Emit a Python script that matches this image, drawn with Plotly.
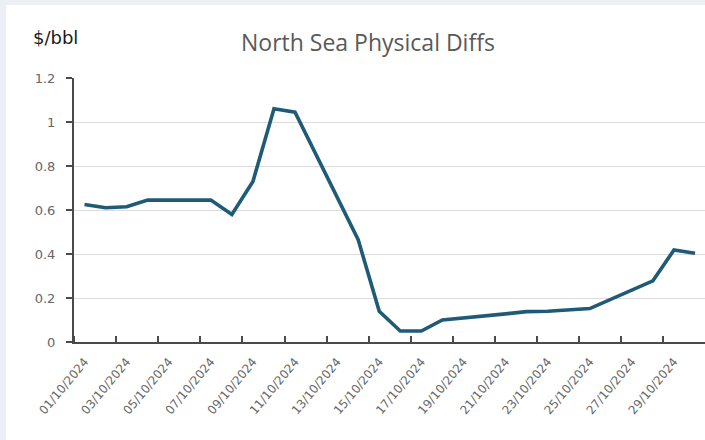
import plotly.graph_objects as go

dates = ["2024-10-01", "2024-10-02", "2024-10-03", "2024-10-04",
         "2024-10-07", "2024-10-08", "2024-10-09", "2024-10-10", "2024-10-11",
         "2024-10-14", "2024-10-15", "2024-10-16", "2024-10-17", "2024-10-18",
         "2024-10-21", "2024-10-22", "2024-10-23", "2024-10-24", "2024-10-25",
         "2024-10-28", "2024-10-29", "2024-10-30"]
diffs = [0.625, 0.61, 0.615, 0.645,
         0.645, 0.58, 0.73, 1.06, 1.045,
         0.465, 0.14, 0.05, 0.05, 0.10,
         0.128, 0.138, 0.14, 0.145, 0.152,
         0.278, 0.418, 0.403]

tick_dates = ["2024-10-01", "2024-10-03", "2024-10-05", "2024-10-07", "2024-10-09",
              "2024-10-11", "2024-10-13", "2024-10-15", "2024-10-17", "2024-10-19",
              "2024-10-21", "2024-10-23", "2024-10-25", "2024-10-27", "2024-10-29"]
tick_labels = ["01/10/2024", "03/10/2024", "05/10/2024", "07/10/2024", "09/10/2024",
               "11/10/2024", "13/10/2024", "15/10/2024", "17/10/2024", "19/10/2024",
               "21/10/2024", "23/10/2024", "25/10/2024", "27/10/2024", "29/10/2024"]
y_ticks = [0, 0.2, 0.4, 0.6, 0.8, 1, 1.2]
y_labels = ["0", "0.2", "0.4", "0.6", "0.8", "1", "1.2"]

fig = go.Figure()
fig.add_trace(go.Scatter(
    x=dates, y=diffs, mode="lines",
    line=dict(color="#1f5b76", width=3.6),
    hoverinfo="skip",
))

W, H = 705, 440
ml, mr, mt, mb = 74, 0, 78, 98
pw, ph = W - ml - mr, H - mt - mb

def px_x(v):
    return (v - ml) / pw

def px_y(v):
    return (H - mb - v) / ph

fig.update_layout(
    width=W, height=H,
    margin=dict(l=ml, r=mr, t=mt, b=mb, pad=0),
    paper_bgcolor="#eceff3",
    plot_bgcolor="white",
    showlegend=False,
    font=dict(family="DejaVu Sans", color="#595959"),
    shapes=[dict(type="rect", xref="paper", yref="paper",
                 x0=px_x(6), x1=px_x(W + 20), y0=px_y(H + 20), y1=px_y(5),
                 fillcolor="white", line=dict(width=0), layer="below")],
    annotations=[
        dict(text="North Sea Physical Diffs", xref="paper", yref="paper",
             x=px_x(368), y=px_y(42), xanchor="center", yanchor="middle",
             showarrow=False, font=dict(family="Open Sans", size=23, color="#595959")),
        dict(text="$/bbl", xref="paper", yref="paper",
             x=px_x(31), y=px_y(38), xanchor="left", yanchor="middle",
             showarrow=False, font=dict(family="DejaVu Sans", size=18, color="#1a1a1a")),
    ],
)

fig.update_xaxes(
    type="date",
    range=["2024-09-30 12:00", "2024-10-30 11:25"],
    tickvals=tick_dates, ticktext=tick_labels,
    tickangle=-50, ticks="", ticklabelstandoff=6,
    tickfont=dict(family="DejaVu Sans", size=12, color="#666666"),
    showgrid=False, zeroline=False,
    showline=True, linecolor="#4a4a4a", linewidth=2,
    minor=dict(tick0="2024-09-30 12:00", dtick=2 * 86400000, ticks="inside",
               ticklen=6, tickwidth=1.5, tickcolor="#4a4a4a", showgrid=False),
)
fig.update_yaxes(
    range=[0, 1.2], tickvals=y_ticks, ticktext=y_labels,
    ticks="outside", ticklen=6, tickwidth=1.5, tickcolor="#4a4a4a",
    ticklabelstandoff=8,
    tickfont=dict(family="DejaVu Sans", size=13, color="#666666"),
    showgrid=True, gridcolor="#dcdcdc", gridwidth=1.2,
    zeroline=False, showline=True, linecolor="#4a4a4a", linewidth=2,
)

fig.write_html("out.html")
